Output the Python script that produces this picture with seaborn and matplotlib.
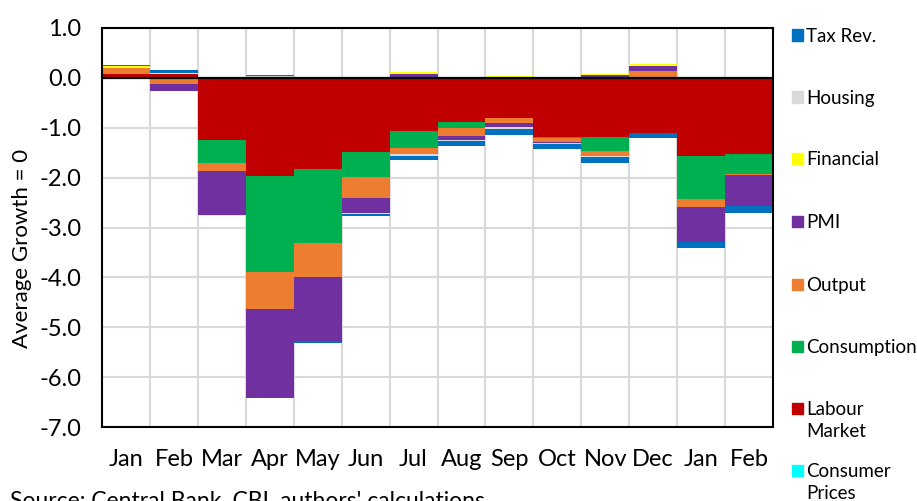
import numpy as np
import matplotlib
matplotlib.use("Agg")
import matplotlib.pyplot as plt
from matplotlib.patches import Rectangle
import seaborn as sns

# Mois (deux années partielles)
months = ["Jan", "Feb", "Mar", "Apr", "May", "Jun", "Jul",
          "Aug", "Sep", "Oct", "Nov", "Dec", "Jan", "Feb"]

# Contributions par composante (ordre d'empilement depuis zéro)
consumer_prices = [0.00, 0.00, 0.00, 0.00, 0.00, 0.00, -0.01,
                   -0.01, -0.01, -0.01, -0.01, -0.01, -0.01, -0.01]
labour_market   = [0.08, 0.07, -1.25, -1.96, -1.83, -1.49, -1.05,
                   -0.87, -0.79, -1.17, -1.17, -1.09, -1.55, -1.51]
consumption     = [0.00, -0.02, -0.46, -1.93, -1.49, -0.50, -0.34,
                   -0.12, 0.02, -0.02, -0.28, 0.00, -0.86, -0.40]
output          = [0.12, -0.10, -0.16, -0.74, -0.67, -0.42, -0.13,
                   -0.16, -0.11, -0.08, -0.10, 0.14, -0.16, -0.03]
pmi             = [-0.02, -0.14, -0.87, -1.78, -1.28, -0.30, 0.08,
                   -0.08, -0.08, -0.02, 0.05, 0.10, -0.71, -0.62]
financial       = [0.03, 0.03, -0.02, 0.02, 0.02, 0.02, 0.03,
                   0.01, 0.01, 0.01, 0.03, 0.03, 0.01, 0.01]
housing         = [0.01, 0.00, 0.00, 0.02, 0.00, -0.02, -0.03,
                   -0.03, -0.03, -0.02, -0.03, -0.01, 0.00, 0.00]
tax_rev         = [0.02, 0.05, 0.01, 0.02, -0.04, -0.03, -0.08,
                   -0.09, -0.12, -0.10, -0.11, -0.10, -0.12, -0.13]

series_values = [consumer_prices, labour_market, consumption, output,
                 pmi, financial, housing, tax_rev]
series_colors = ["#00FFFF", "#C00000", "#00B050", "#ED7D31",
                 "#7030A0", "#FFFF00", "#D9D9D9", "#0070C0"]
legend_labels = ["Consumer\nPrices", "Labour\nMarket", "Consumption", "Output",
                 "PMI", "Financial", "Housing", "Tax Rev."]

sns.set_style("white")
plt.rcParams["font.family"] = ["Lato", "DejaVu Sans"]
plt.rcParams["axes.unicode_minus"] = False
plt.rcParams["text.color"] = "black"
plt.rcParams["xtick.color"] = "black"
plt.rcParams["ytick.color"] = "black"

fig = plt.figure(figsize=(9.17, 5.01), dpi=100)
ax = fig.add_axes([102 / 917, 1 - 427 / 501, 671 / 917, 399 / 501])

x_pos = np.arange(len(months))
pos_bottom = np.zeros(len(months))
neg_bottom = np.zeros(len(months))

# Barres empilées divergentes : positives vers le haut, négatives vers le bas
for vals, col in zip(series_values, series_colors):
    vals = np.array(vals)
    bottom = np.where(vals >= 0, pos_bottom, neg_bottom)
    sns.barplot(x=x_pos, y=vals, bottom=bottom, color=col, saturation=1,
                width=1.0, errorbar=None, linewidth=0, ax=ax, zorder=2)
    pos_bottom = pos_bottom + np.clip(vals, 0, None)
    neg_bottom = neg_bottom + np.clip(vals, None, 0)

ax.axhline(0, color="black", linewidth=1.6, zorder=3)

ax.set_xlim(-0.5, len(months) - 0.5)
ax.set_ylim(-7, 1)
ax.set_yticks(np.arange(-7, 1.5, 1))
ax.set_yticklabels([f"{v:.1f}" for v in np.arange(-7, 1.5, 1)], fontsize=17)
ax.set_xticks(x_pos)
ax.set_xticklabels(months, fontsize=17)
ax.set_xticks(np.arange(0.5, len(months) - 1, 1), minor=True)
ax.tick_params(axis="both", which="both", length=0)
ax.tick_params(axis="y", pad=15)
ax.tick_params(axis="x", pad=15.5)
ax.set_xlabel("")
ax.set_ylabel("")

ax.set_axisbelow(True)
ax.grid(axis="y", which="major", color="#D9D9D9", linewidth=1.5)
ax.grid(axis="x", which="minor", color="#D9D9D9", linewidth=1.5)
ax.grid(axis="x", which="major", visible=False)

for sp in ax.spines.values():
    sp.set_visible(True)
    sp.set_color("black")
    sp.set_linewidth(1.5)

fig.text(22 / 917, 1 - 248 / 501, "Average Growth = 0", rotation=90,
         ha="center", va="center", fontsize=16)

# Légende manuelle (ordre inverse, comme Excel)
legend_y = [470, 408, 346, 284, 221, 158, 97, 35]
for lab, col, yy in zip(legend_labels, series_colors, legend_y):
    fig.patches.append(Rectangle((792 / 917, 1 - (yy + 5.5) / 501), 11 / 917, 11 / 501,
                                 transform=fig.transFigure, color=col, figure=fig))
    fig.text(806 / 917, 1 - (yy - 7) / 501, lab, ha="left", va="top",
             fontsize=13.5, linespacing=1.35)

fig.text(10 / 917, 1 - 491 / 501, "Source: Central Bank, CBI, authors' calculations",
         ha="left", va="top", fontsize=16.5)

fig.savefig("out.png", dpi=100)
